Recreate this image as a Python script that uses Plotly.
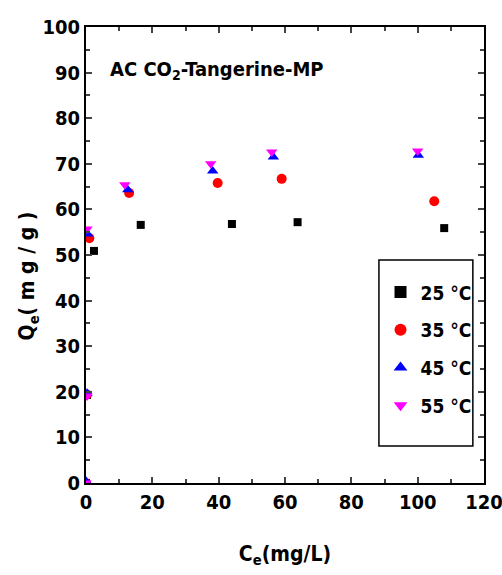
import plotly.graph_objects as go

series_names = ["25 °C", "35 °C", "45 °C", "55 °C"]
x25 = [0.0, 0.3, 2.4, 16.5, 44.0, 63.8, 108.0]
y25 = [0.0, 19.3, 50.9, 56.6, 56.8, 57.2, 55.9]
x35 = [0.0, 0.3, 1.0, 13.0, 39.7, 59.0, 105.0]
y35 = [0.0, 19.4, 53.7, 63.6, 65.8, 66.7, 61.8]
x45 = [0.0, 0.3, 0.5, 12.6, 38.2, 56.5, 100.2]
y45 = [0.4, 19.7, 54.6, 64.3, 68.4, 71.5, 71.9]
x55 = [0.0, 0.3, 0.3, 11.7, 37.6, 56.0, 100.0]
y55 = [0.0, 19.1, 55.7, 65.4, 70.0, 72.6, 72.8]

xs = [x25, x35, x45, x55]
ys = [y25, y35, y45, y55]
colors = ["black", "red", "blue", "magenta"]
symbols = ["square", "circle", "triangle-up", "triangle-down"]
sizes = [8, 10, 10, 10]

FONT = "DejaVu Sans Condensed, Liberation Sans, Arial"

fig = go.Figure()
for i, (n, x, y, c, s, sz) in enumerate(zip(series_names, xs, ys, colors, symbols, sizes)):
    fig.add_trace(go.Scatter(x=x, y=y, mode="markers", name=n, legendgroup=f"g{i}",
                             marker=dict(color=c, symbol=s, size=sz, line=dict(width=0))))

axis_common = dict(showline=True, linecolor="black", linewidth=2, mirror="ticks",
                   ticks="inside", ticklen=6, tickwidth=1.5, tickcolor="#444",
                   showgrid=False, zeroline=False, automargin=False,
                   ticklabeloverflow="allow",
                   tickfont=dict(family=FONT, size=20, color="black", weight="bold"))

fig.update_xaxes(range=[0, 120], tickvals=[0, 20, 40, 60, 80, 100, 120],
                 minor=dict(dtick=10, ticks="inside", ticklen=4, tickcolor="#444"),
                 title=dict(text="C<sub>e</sub>(mg/L)", font=dict(family=FONT, size=21, color="black", weight="bold"), standoff=33),
                 **axis_common)
fig.update_yaxes(range=[0, 100], dtick=10,
                 minor=dict(dtick=5, ticks="inside", ticklen=4, tickcolor="#444"),
                 **axis_common)

# y-axis title
fig.add_annotation(x=-0.146, y=0.455, xref="paper", yref="paper", xanchor="center", yanchor="middle",
                   text="Q<sub>e</sub>( m g / g )", textangle=-90, showarrow=False,
                   font=dict(family=FONT, size=21, color="black", weight="bold"))

fig.add_annotation(x=0.055, y=0.906, xref="paper", yref="paper", xanchor="left", yanchor="middle",
                   text="AC CO<sub>2</sub>-Tangerine-MP", showarrow=False,
                   font=dict(family=FONT, size=20, color="black", weight="bold"))

# legend frame
fig.add_shape(type="rect", xref="paper", yref="paper", x0=0.736, x1=0.972, y0=0.081, y1=0.489,
              line=dict(color="black", width=1.5), fillcolor="rgba(0,0,0,0)", layer="above")

fig.update_layout(
    width=502, height=575,
    margin=dict(l=86, r=18, t=27, b=92),
    paper_bgcolor="white", plot_bgcolor="white",
    showlegend=True,
    legend=dict(x=0.74, y=0.46, xanchor="left", yanchor="top",
                borderwidth=0, bgcolor="rgba(0,0,0,0)",
                font=dict(family=FONT, size=19, color="black", weight="bold"),
                itemsizing="constant", tracegroupgap=10),
)

fig.write_html("out.html", config={"displayModeBar": False},
               post_script="document.body.style.margin='0';document.body.style.overflow='hidden';")
